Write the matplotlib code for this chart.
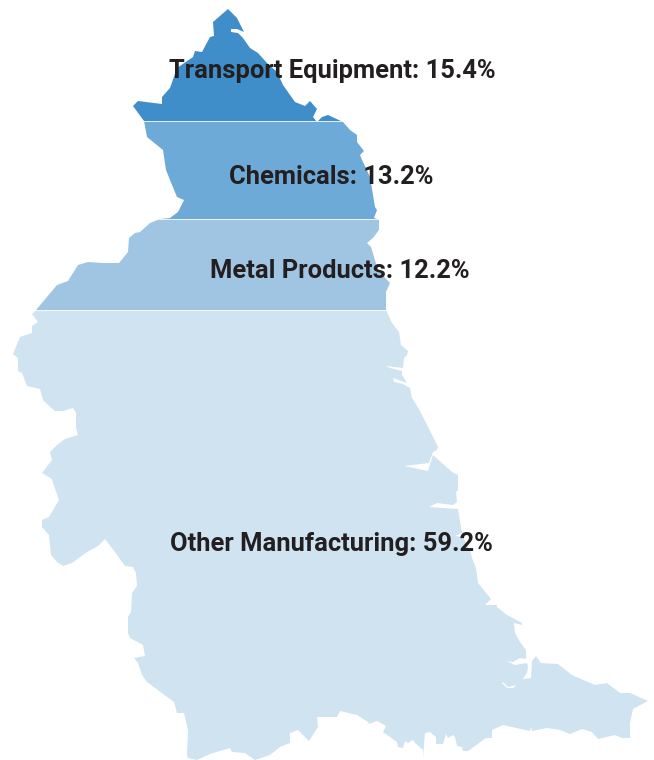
import matplotlib
matplotlib.use("Agg")
import matplotlib.pyplot as plt
from matplotlib.patches import Polygon, Rectangle

categories = ["Transport Equipment", "Chemicals", "Metal Products", "Other Manufacturing"]
shares = [15.4, 13.2, 12.2, 59.2]
colors = ["#3F8EC9", "#6DAAD7", "#A0C5E3", "#D0E3F1"]
label_x = [332, 331, 340, 331]
label_y = [71, 177, 271, 544]

outline_x = [228,237,244,237,231,231,238,243,250,258,267,277,283,295,305,310,317,313,317,322,328,343,350,357,357,364,360,363,370,375,377,374,379,379,373,367,371,378,390,386,386,
392,399,401,408,407,404,403,386,390,402,402,407,393,394,403,410,412,420,427,438,437,433,429,404,428,433,452,458,458,456,457,453,437,429,458,461,462,455,463,471,472,476,478,491,
485,497,497,507,522,522,514,515,520,526,526,520,513,507,515,527,528,527,522,517,508,503,502,507,513,518,523,531,532,536,541,558,572,595,607,620,630,648,633,630,630,622,615,598,592,582,570,560,547,532,531,530,503,492,492,486,468,463,462,457,455,453,448,446,443,436,436,430,425,423,423,415,413,408,405,403,398,397,383,386,377,369,368,357,340,337,330,
317,318,309,298,290,290,280,270,255,245,232,230,210,197,188,187,188,184,177,174,147,142,138,134,145,143,130,128,128,131,132,137,136,133,125,115,105,98,87,72,63,57,51,49,42,42,49,59,53,52,42,52,50,57,65,78,76,76,73,63,55,49,43,40,27,22,18,18,13,20,32,32,38,32,36,
57,68,73,78,88,103,119,128,129,135,140,150,160,170,178,184,177,170,166,163,147,144,133,138,162,162,170,177,193,195,202,210,214,213]
outline_y = [9,18,32,29,29,32,33,38,48,53,63,72,85,102,106,101,109,117,122,117,115,122,130,135,142,151,155,162,177,207,210,218,219.5,230,238,243,247,270,283,292,310,
323,332,345,351,355,358,368,366,368,371,375,383,378,382,384,388,398,411,425,447,450,452,463,466,471,455,472,475,490,492,502,505,503,507,509,527,533,536,537,553,558,568,583,599,
605,605,607,615,623,625,623,633,642,650,659,658,662,661,665,663,667,673,680,685,687,682,683,688,688,684,679,678,661,656,663,664,675,685,683,693,693,701,709,723,738,738,735,739,732,729,734,730,728,731,727,731,725,730,738,738,751,751,747,746,737,735,738,734,744,744,737,732,733,758,750,743,740,743,741,748,747,742,732,726,721,724,722,715,711,717,717,
717,727,741,730,733,743,747,755,760,753,752,748,754,760,758,755,730,713,713,702,682,675,663,658,656,645,638,633,617,612,593,586,573,567,566,552,539,546,552,563,566,562,555,535,527,520,517,500,483,479,473,460,452,445,439,435,428,413,408,411,411,406,400,389,386,373,371,358,354,337,333,326,322,314,310,
285,281,273,265,262,263,263,252,238,233,232,223,219,218,212,200,197,180,170,150,137,121,106,101,104,97,88,68,57,51,52,37,36,22]

plt.rcParams["font.family"] = ["Roboto", "DejaVu Sans"]
fig = plt.figure(figsize=(6.54, 7.60), dpi=100)
ax = fig.add_axes([0, 0, 1, 1])
ax.set_xlim(0, 654)
ax.set_ylim(760, 0)
ax.axis("off")

# linear scale: cumulative percent -> vertical position of the shape
y_start, y_per_pct = 6.5, 7.44
shape = Polygon(list(zip(outline_x, outline_y)), closed=True, transform=ax.transData, facecolor="none", edgecolor="none")
ax.add_patch(shape)

cum = 0.0
for i, (share, color) in enumerate(zip(shares, colors)):
    top = y_start + y_per_pct * cum
    height = y_per_pct * share
    if i == len(shares) - 1:
        height += 20
    band = Rectangle((0, top), 654, height, facecolor=color, edgecolor="white", linewidth=0.5)
    ax.add_patch(band)
    band.set_clip_path(shape)
    cum += share

for name, share, x, y in zip(categories, shares, label_x, label_y):
    ax.text(x, y, f"{name}: {share}%", ha="center", va="center", fontsize=18.4,
            fontweight="bold", color="#231F20")

fig.savefig("out.png", dpi=100)
